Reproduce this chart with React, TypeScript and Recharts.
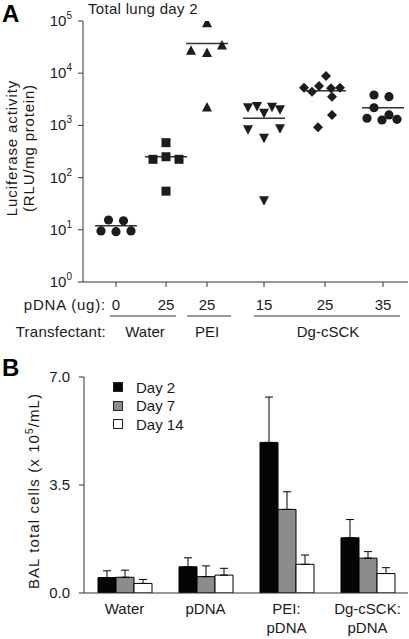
import React from "react";
import {
  ScatterChart,
  Scatter,
  XAxis,
  YAxis,
  ReferenceLine,
  BarChart,
  Bar,
  ErrorBar,
  Legend,
} from "recharts";

const FONT = '"Liberation Sans", Arial, Helvetica, sans-serif';
const INK = "#1a1a1a";

// ---- panel A: luciferase activity per animal (log scale) ----
const doseLabels = ["0", "25", "25", "15", "25", "35"];
const groupX = [0.66, 1.66, 2.48, 3.62, 4.84, 6.0];
const markerKinds = ["circle", "square", "up", "down", "diamond", "circle"];

const waterJitter = [-0.3, -0.15, 0, 0.15, 0.3];
const waterVals = [9.5, 15.4, 9.2, 14.9, 9.5];
const pdnaJitter = [-0.26, 0, 0, 0.26, 0];
const pdnaVals = [224, 467, 251, 224, 55];
const peiJitter = [0, -0.32, 0, 0.3, 0];
const peiVals = [91000, 27000, 24500, 34000, 2200];
const dg15Jitter = [-0.32, -0.14, 0, 0.16, 0.32, -0.32, 0, 0.32, 0];
const dg15Vals = [2220, 2360, 1750, 2280, 2030, 841, 581, 879, 37];
const dg25Jitter = [-0.42, -0.26, -0.12, 0.02, 0.12, 0.3, 0.14, 0.14, -0.14];
const dg25Vals = [5270, 4420, 5690, 8830, 5140, 5270, 3550, 1580, 920];
const dg35Jitter = [-0.18, 0.12, -0.18, -0.32, -0.02, 0.12, 0.28];
const dg35Vals = [3820, 3550, 2180, 1370, 1270, 1590, 1310];
const groupMedians = [12, 250, 37000, 1370, 4620, 2180];

const jitters = [waterJitter, pdnaJitter, peiJitter, dg15Jitter, dg25Jitter, dg35Jitter];
const values = [waterVals, pdnaVals, peiVals, dg15Vals, dg25Vals, dg35Vals];

const scatterGroups = values.map((vals, g) =>
  vals.map((v, i) => ({ x: groupX[g] + jitters[g][i], y: v }))
);

const logTicks = [1, 10, 100, 1000, 10000, 100000];

// ---- panel B: BAL total cells ----
const treatments = ["Water", "pDNA", "PEI:|pDNA", "Dg-cSCK:|pDNA"];
const dayNames = ["Day 2", "Day 7", "Day 14"];
const day2 = [0.5, 0.85, 4.88, 1.79];
const day2Err = [0.22, 0.29, 1.47, 0.59];
const day7 = [0.51, 0.53, 2.71, 1.13];
const day7Err = [0.23, 0.35, 0.57, 0.21];
const day14 = [0.31, 0.58, 0.93, 0.63];
const day14Err = [0.13, 0.22, 0.3, 0.19];

const barData = treatments.map((name, i) => ({
  name,
  d2: day2[i],
  d2e: [0, day2Err[i]],
  d7: day7[i],
  d7e: [0, day7Err[i]],
  d14: day14[i],
  d14e: [0, day14Err[i]],
}));

function Marker(props: any) {
  const { cx, cy, kind } = props;
  if (cx == null || cy == null) return null;
  const f = "#1c1c1c";
  if (kind === "square")
    return <rect x={cx - 4.5} y={cy - 4.5} width={9} height={9} fill={f} />;
  if (kind === "up")
    return <polygon points={`${cx},${cy - 5.5} ${cx + 5},${cy + 4} ${cx - 5},${cy + 4}`} fill={f} />;
  if (kind === "down")
    return <polygon points={`${cx - 5},${cy - 4} ${cx + 5},${cy - 4} ${cx},${cy + 5.5}`} fill={f} />;
  if (kind === "diamond")
    return <polygon points={`${cx},${cy - 5} ${cx + 5},${cy} ${cx},${cy + 5} ${cx - 5},${cy}`} fill={f} />;
  return <circle cx={cx} cy={cy} r={4.6} fill={f} />;
}

function LogTick(props: any) {
  const { x, y, payload } = props;
  const exp = Math.round(Math.log10(payload.value));
  return (
    <text x={x - 4} y={y} dy={5} textAnchor="end" fontSize={15} fill={INK}>
      10
      <tspan dy={-7} fontSize={10}>
        {exp}
      </tspan>
    </text>
  );
}

function DoseTick(props: any) {
  const { x, y, index } = props;
  return (
    <text x={x} y={y + 21} textAnchor="middle" fontSize={15} fill={INK}>
      {doseLabels[index]}
    </text>
  );
}

function TreatTick(props: any) {
  const { x, y, payload } = props;
  const lines = String(payload.value).split("|");
  return (
    <text x={x} y={y + 21} textAnchor="middle" fontSize={15} fill={INK}>
      {lines.map((l, i) => (
        <tspan key={i} x={x} dy={i === 0 ? 0 : 19}>
          {l}
        </tspan>
      ))}
    </text>
  );
}

function BarLegend(props: any) {
  const items = [...(props.payload || [])].sort(
    (a: any, b: any) => dayNames.indexOf(a.value) - dayNames.indexOf(b.value)
  );
  return (
    <div style={{ fontFamily: FONT }}>
      {items.map((p: any) => (
        <div key={p.value} style={{ display: "flex", alignItems: "center", height: 18.5 }}>
          <span
            style={{
              width: 10,
              height: 10,
              boxSizing: "border-box",
              background: p.color,
              border: "1px solid #222",
              marginRight: 13,
            }}
          />
          <span style={{ fontSize: 15, color: INK }}>{p.value}</span>
        </div>
      ))}
    </div>
  );
}

export default function App() {
  return (
    <div
      style={{
        position: "absolute",
        left: 0,
        top: 0,
        width: 409,
        height: 639,
        background: "#fff",
        fontFamily: FONT,
        overflow: "hidden",
      }}
    >
      <div style={{ position: "absolute", left: 0, top: 0 }}>
        <ScatterChart width={409} height={350} margin={{ top: 21, right: 1, bottom: 0, left: 0 }}>
          <XAxis
            type="number"
            dataKey="x"
            domain={[0, 6.5]}
            ticks={groupX}
            interval={0}
            height={68}
            tickSize={5}
            tickMargin={2}
            stroke="#333"
            tick={<DoseTick />}
            allowDataOverflow
          />
          <YAxis
            type="number"
            dataKey="y"
            scale="log"
            domain={[1, 100000]}
            ticks={logTicks}
            interval={0}
            width={83}
            tickSize={5}
            tickMargin={2}
            stroke="#333"
            tick={<LogTick />}
            allowDataOverflow
          />
          {scatterGroups.map((pts, g) => (
            <Scatter
              key={g}
              data={pts}
              isAnimationActive={false}
              shape={(p: any) => <Marker {...p} kind={markerKinds[g]} />}
            />
          ))}
          {groupMedians.map((m, g) => (
            <ReferenceLine
              key={"m" + g}
              segment={[
                { x: groupX[g] - 0.42, y: m },
                { x: groupX[g] + 0.42, y: m },
              ]}
              stroke="#333"
              strokeWidth={1.5}
              ifOverflow="visible"
            />
          ))}
        </ScatterChart>
      </div>

      <div style={{ position: "absolute", left: 0, top: 350 }}>
        <BarChart
          width={409}
          height={289}
          data={barData}
          margin={{ top: 27, right: 1, bottom: 0, left: 0 }}
          barGap={0}
          barSize={18}
        >
          <XAxis
            dataKey="name"
            height={46}
            tickLine={false}
            tickSize={0}
            tickMargin={0}
            stroke="#333"
            tick={<TreatTick />}
            interval={0}
          />
          <YAxis
            domain={[0, 7]}
            ticks={[0, 3.5, 7]}
            width={84}
            tickSize={5}
            tickMargin={9}
            stroke="#333"
            tick={{ fontSize: 15, fill: INK }}
            tickFormatter={(v: number) => v.toFixed(1)}
            allowDataOverflow
          />
          <Legend
            layout="vertical"
            verticalAlign="middle"
            align="center"
            wrapperStyle={{ position: "absolute", left: 113, top: 28, width: 110 }}
            content={<BarLegend />}
          />
          <Bar dataKey="d2" name={dayNames[0]} fill="#050505" stroke="#000" strokeWidth={1} isAnimationActive={false}>
            <ErrorBar dataKey="d2e" width={4} stroke="#000" strokeWidth={1} direction="y" />
          </Bar>
          <Bar dataKey="d7" name={dayNames[1]} fill="#8c8c8c" stroke="#000" strokeWidth={1} isAnimationActive={false}>
            <ErrorBar dataKey="d7e" width={4} stroke="#000" strokeWidth={1} direction="y" />
          </Bar>
          <Bar dataKey="d14" name={dayNames[2]} fill="#ffffff" stroke="#000" strokeWidth={1} isAnimationActive={false}>
            <ErrorBar dataKey="d14e" width={4} stroke="#000" strokeWidth={1} direction="y" />
          </Bar>
        </BarChart>
      </div>

      {/* panel letters, axis titles and the transfectant key */}
      <svg
        width={409}
        height={639}
        style={{ position: "absolute", left: 0, top: 0, pointerEvents: "none" }}
        fontFamily={FONT}
      >
        <text x={2} y={22} fontSize={24} fontWeight="bold" fill="#000">A</text>
        <text x={88} y={14} fontSize={15} fill={INK} letterSpacing={0.3}>Total lung day 2</text>
        <g transform="rotate(-90 17 148)">
          <text x={17} y={148} fontSize={15} textAnchor="middle" fill={INK} letterSpacing={0.9}>
            Luciferase activity
          </text>
        </g>
        <g transform="rotate(-90 34 148)">
          <text x={34} y={148} fontSize={15} textAnchor="middle" fill={INK} letterSpacing={0.8}>
            (RLU/mg protein)
          </text>
        </g>
        <text x={106} y={310} fontSize={15} textAnchor="end" fill={INK} letterSpacing={0.8}>pDNA (ug):</text>
        <text x={106} y={337} fontSize={15} textAnchor="end" fill={INK} letterSpacing={0.25}>Transfectant:</text>
        <line x1={110} x2={176} y1={316} y2={316} stroke="#333" strokeWidth={1} />
        <line x1={187} x2={231} y1={316} y2={316} stroke="#333" strokeWidth={1} />
        <line x1={254} x2={400} y1={316} y2={316} stroke="#333" strokeWidth={1} />
        <text x={145} y={337} fontSize={15} textAnchor="middle" fill={INK}>Water</text>
        <text x={207} y={337} fontSize={15} textAnchor="middle" fill={INK}>PEI</text>
        <text x={328} y={337} fontSize={15} textAnchor="middle" fill={INK}>Dg-cSCK</text>

        <text x={2} y={376} fontSize={24} fontWeight="bold" fill="#000">B</text>
        <g transform="rotate(-90 39 491)">
          <text x={39} y={491} fontSize={15} textAnchor="middle" fill={INK} letterSpacing={1.1}>
            BAL total cells (x 10
            <tspan dy={-6} fontSize={10}>5</tspan>
            <tspan dy={6}>/mL)</tspan>
          </text>
        </g>
      </svg>
    </div>
  );
}
